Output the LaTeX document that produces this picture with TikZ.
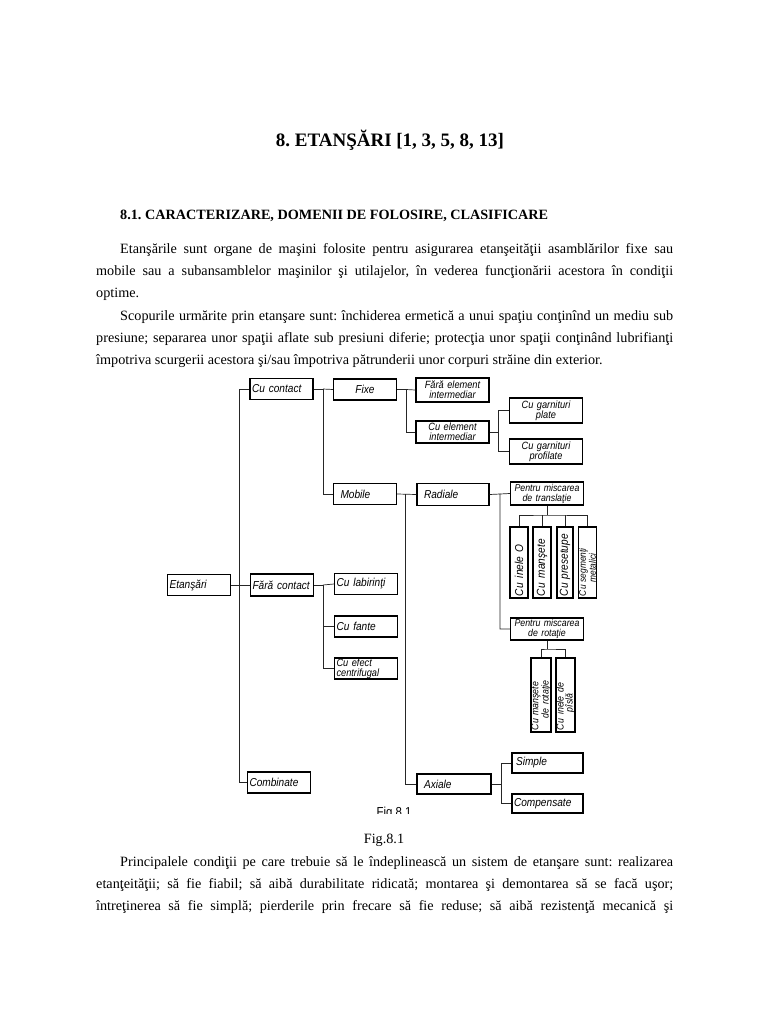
\documentclass[tikz,border=0pt]{standalone}
\usepackage{fontspec}
\setmainfont{Liberation Serif}
\newfontfamily\schemafont[FakeStretch=0.88]{Liberation Sans}
\newcommand{\randplin}[1]{\makebox[577pt][s]{#1}}
\newcommand{\randind}[1]{\makebox[553pt][s]{#1}}
\hyphenpenalty=10000
\frenchspacing
\tikzset{
  bloc/.style={draw, line width=1.4pt, inner xsep=2pt, inner ysep=0pt,
    minimum height=21pt, text width=#1, align=left,
    font=\schemafont\itshape\fontsize{11.5}{11.5}\selectfont},
  bloc/.default=59pt,
  bloc2/.style={bloc=#1, align=center,
    font=\schemafont\itshape\fontsize{10.5}{10}\selectfont},
  bloc2/.default=69pt,
  vbloc/.style={bloc=#1, rotate=90, minimum height=18pt},
  vbloc/.default=67pt,
  leg/.style={line width=0.7pt, black!85},
  rand/.style={anchor=base west, inner sep=0pt, font=\fontsize{14.2}{22}\selectfont},
}
\begin{document}
\begin{tikzpicture}[x=1pt, y=-1pt]
  \useasboundingbox[fill=white] (0,0) rectangle (768,1024);
  % titlu si text
  \node[inner sep=0pt, anchor=base, font=\bfseries\fontsize{19}{22}\selectfont] (titlu) at (390,147) {8. ETANŞĂRI [1, 3, 5, 8, 13]};
  \node[rand, font=\bfseries\fontsize{14.2}{16}\selectfont] (subtitlu) at (120,220) {8.1. CARACTERIZARE, DOMENII DE FOLOSIRE, CLASIFICARE};
  \node[rand] (r1) at (120,253) {\randind{Etanşările sunt organe de maşini folosite pentru asigurarea etanşeităţii asamblărilor fixe sau}};
  \node[rand] (r2) at (96,275) {\randplin{mobile sau a subansamblelor maşinilor şi utilajelor, în vederea funcţionării acestora în condiţii}};
  \node[rand] (r3) at (96,297) {optime.};
  \node[rand] (r4) at (120,320) {\randind{Scopurile urmărite prin etanşare sunt: închiderea ermetică a unui spaţiu conţinînd un mediu sub}};
  \node[rand] (r5) at (96,342) {\randplin{presiune; separarea unor spaţii aflate sub presiuni diferie; protecţia unor spaţii conţinând lubrifianţi}};
  \node[rand] (r6) at (96,364) {împotriva scurgerii acestora şi/sau împotriva pătrunderii unor corpuri străine din exterior.};
  \node[inner sep=0pt, anchor=base, font=\fontsize{14.2}{16}\selectfont] (fig) at (384,843) {Fig.8.1};
  \node[rand] (r7) at (120,866) {\randind{Principalele condiţii pe care trebuie să le îndeplinească un sistem de etanşare sunt: realizarea}};
  \node[rand] (r8) at (96,888) {\randplin{etanţeităţii; să fie fiabil; să aibă durabilitate ridicată; montarea şi demontarea să se facă uşor;}};
  \node[rand] (r9) at (96,910) {\randplin{întreţinerea să fie simplă; pierderile prin frecare să fie reduse; să aibă rezistenţă mecanică şi}};
  % schema
  \node[bloc] (etansari) at (199,585) {Etanşări};
  \node[bloc] (contact) at (281.5,389) {Cu contact};
  \node[bloc, minimum height=22pt] (faracontact) at (282,585) {Fără contact};
  \node[bloc] (combinate) at (279,782.5) {Combinate};
  \node[bloc, align=center] (fixe) at (365,389.5) {Fixe};
  \node[bloc] (mobile) at (365,494) {\hspace*{5pt}Mobile};
  \node[bloc] (labirinti) at (366,584) {Cu labirinţi};
  \node[bloc] (fante) at (366,626.5) {Cu fante};
  \node[bloc, font=\schemafont\itshape\fontsize{10.5}{10}\selectfont] (centrifugal) at (366,668.5) {Cu efect\\centrifugal};
  \node[bloc2, minimum height=24pt] (faraelem) at (452.5,390) {Fără element\\intermediar};
  \node[bloc2, minimum height=22pt] (cuelem) at (452.5,432) {Cu element\\intermediar};
  \node[bloc=68pt, minimum height=22pt] (radiale) at (453,494.5) {\hspace*{5pt}Radiale};
  \node[bloc=70pt, minimum height=20pt] (axiale) at (454,784) {\hspace*{5pt}Axiale};
  \node[bloc2, minimum height=25pt] (plate) at (546,410.5) {Cu garnituri\\plate};
  \node[bloc2, minimum height=25pt] (profilate) at (546,451.5) {Cu garnituri\\profilate};
  \node[bloc2, minimum height=23pt, font=\schemafont\itshape\fontsize{10}{10}\selectfont] (translatie) at (547,493.5) {Pentru miscarea\\de translaţie};
  \node[bloc2, minimum height=22pt, font=\schemafont\itshape\fontsize{10}{10}\selectfont] (rotatie) at (547,629) {Pentru miscarea\\de rotaţie};
  \node[bloc=67pt, minimum height=20pt] (simple) at (547.5,763) {\hspace*{2pt}Simple};
  \node[bloc=67pt, minimum height=19pt] (compensate) at (547.5,803.5) {Compensate};
  % blocuri verticale
  \node[vbloc] (inele) at (519,562.5) {Cu\hspace{5pt}inele O};
  \node[vbloc] (mansete) at (542,562.5) {Cu\hspace{5pt}manşete};
  \node[vbloc, minimum height=16pt] (presetupe) at (565,562.5) {Cu presetupe};
  \node[vbloc, font=\schemafont\itshape\fontsize{9.5}{8.5}\selectfont] (segmenti) at (587.5,562.5) {Cu\hspace{3pt}segmenţi\\\hspace*{14pt}metalici};
  \node[vbloc=70pt, minimum height=20pt, font=\schemafont\itshape\fontsize{10}{9}\selectfont] (mansrot) at (541,695) {Cu\hspace{3pt}manşete\\\hspace*{12pt}de rotaţie};
  \node[vbloc=70pt, minimum height=19pt, font=\schemafont\itshape\fontsize{10}{9}\selectfont] (pasla) at (565.5,695) {Cu\hspace{4pt}inele de\\\hspace*{18pt}pîslă};
  % legaturi
  \draw[leg] (etansari.east) -- (239,585) |- (contact.west);
  \draw[leg] (239,585) -- (faracontact.west);
  \draw[leg] (239,585) |- (combinate.west);
  \draw[leg] (contact.east) -- (323,389) |- (mobile.west);
  \draw[leg] (323,389) -- (fixe.west);
  \draw[leg] (faracontact.east) -- (323,585) |- (centrifugal.west);
  \draw[leg] (323,585) -- (labirinti.west);
  \draw[leg] (323,626.5) -- (fante.west);
  \draw[leg] (fixe.east) -- (406,389.5) |- (cuelem.west);
  \draw[leg] (406,389.5) -- (faraelem.west);
  \draw[leg] (cuelem.east) -- (498,432) |- (plate.west);
  \draw[leg] (498,432) |- (profilate.west);
  \draw[leg] (mobile.east) -- (radiale.west);
  \draw[leg] (405,494) |- (axiale.west);
  \draw[leg] (radiale.east) -- (500,494) |- (rotatie.west);
  \draw[leg] (500,494) -- (translatie.west);
  \draw[leg] (axiale.east) -- (501,784) |- (simple.west);
  \draw[leg] (501,784) |- (compensate.west);
  \draw[leg] (translatie.south) -- (547,515);
  \draw[leg] (inele.east) |- (547,515) -| (segmenti.east);
  \draw[leg] (mansete.east) -- (542,515);
  \draw[leg] (presetupe.east) -- (565,515);
  \draw[leg] (rotatie.south) -- (547,649);
  \draw[leg] (mansrot.east) |- (547,649) -| (pasla.east);
  % eticheta taiata din scanare
  \begin{scope}
    \clip (330,790) rectangle (460,813.5);
    \node[inner sep=0pt, anchor=base, font=\schemafont\fontsize{13}{13}\selectfont] (figscan) at (394,816) {Fig 8.1};
  \end{scope}
\end{tikzpicture}
\end{document}
